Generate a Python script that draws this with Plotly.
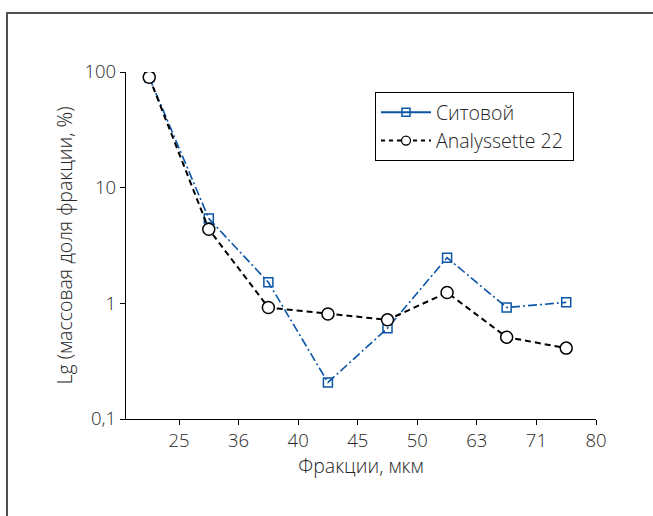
import plotly.graph_objects as go

fractions = ["20–25", "25–36", "36–40", "40–45", "45–50", "50–63", "63–71", "71–80"]
tick_labels = ["25", "36", "40", "45", "50", "63", "71", "80"]
sieve = [90, 5.4, 1.52, 0.207, 0.61, 2.48, 0.92, 1.02]
analyssette = [90, 4.37, 0.92, 0.81, 0.72, 1.24, 0.51, 0.41]
series_names = ["Ситовой", "Analyssette 22"]

xpos = [i + 0.5 for i in range(len(fractions))]
tickpos = [i + 1 for i in range(len(tick_labels))]

FONT = "Open Sans"
TXT = "#262626"
BLUE = "#0b55a8"
FS = 18.5
FT = 19.5
W = 300

fig = go.Figure()
fig.add_trace(go.Scatter(
    x=xpos, y=sieve, name=series_names[0], mode="lines+markers", showlegend=False,
    line=dict(color=BLUE, width=1.6, dash="9px,3px,2px,3px"),
    marker=dict(symbol="square-open", size=9, color=BLUE, line=dict(width=1.5, color=BLUE)),
))
fig.add_trace(go.Scatter(
    x=xpos, y=analyssette, name=series_names[1], mode="lines+markers", showlegend=False,
    line=dict(color="black", width=2, dash="6px,4px"),
    marker=dict(symbol="circle", size=12, color="white", line=dict(width=1.5, color="black")),
))
# legend entries
fig.add_trace(go.Scatter(
    x=[None], y=[None], name=series_names[0], mode="lines+markers",
    line=dict(color=BLUE, width=2),
    marker=dict(symbol="square-open", size=8, color=BLUE, line=dict(width=1.5, color=BLUE)),
))
fig.add_trace(go.Scatter(
    x=[None], y=[None], name=series_names[1] + "\u00a0", mode="lines+markers",
    line=dict(color="black", width=2, dash="4px,4px"),
    marker=dict(symbol="circle", size=9, color="white", line=dict(width=1.3, color="black")),
))

pw, ph = 653 - 126 - 57, 516 - 72 - 97

fig.update_layout(
    width=653, height=516,
    margin=dict(l=126, r=57, t=72, b=97),
    paper_bgcolor="white", plot_bgcolor="white",
    font=dict(family=FONT, size=FS, color=TXT, weight=W),
    showlegend=True,
    legend=dict(
        x=(375 - 126) / pw, y=(419 - 92) / ph, xanchor="left", yanchor="top",
        bgcolor="white", bordercolor="black", borderwidth=1,
        font=dict(family=FONT, size=19.5, color=TXT, weight=W), itemwidth=50,
        tracegroupgap=0,
    ),
    xaxis=dict(
        range=[0.11, 8], tickmode="array", tickvals=tickpos, ticktext=tick_labels,
        showgrid=False, zeroline=False, showline=True, linecolor="black", linewidth=1.3,
        ticks="outside", ticklen=5, tickwidth=1.3, tickcolor="black",
        tickfont=dict(family=FONT, size=FS, color=TXT, weight=W),
        title=dict(text="Фракции, мкм", font=dict(family=FONT, size=FT, color=TXT, weight=W), standoff=4),
    ),
    yaxis=dict(
        type="log", range=[-1, 2], tickmode="array",
        tickvals=[0.1, 1, 10, 100], ticktext=["0,1", "1", "10", "100"],
        showgrid=False, zeroline=False, showline=True, linecolor="black", linewidth=1.3,
        ticks="outside", ticklen=5, tickwidth=1.3, tickcolor="black",
        tickfont=dict(family=FONT, size=FS, color=TXT, weight=W),
        title=dict(text="Lg (массовая доля фракции, %)", font=dict(family=FONT, size=FT, color=TXT, weight=W), standoff=6),
    ),
)

# outer frame
fig.add_shape(type="rect", xref="paper", yref="paper",
              x0=(7 - 126) / pw, x1=(700 - 126) / pw,
              y0=(419 - 560) / ph, y1=(419 - 13) / ph,
              line=dict(color="#505050", width=2), fillcolor="rgba(0,0,0,0)", layer="below")

fig.write_html("out.html")
